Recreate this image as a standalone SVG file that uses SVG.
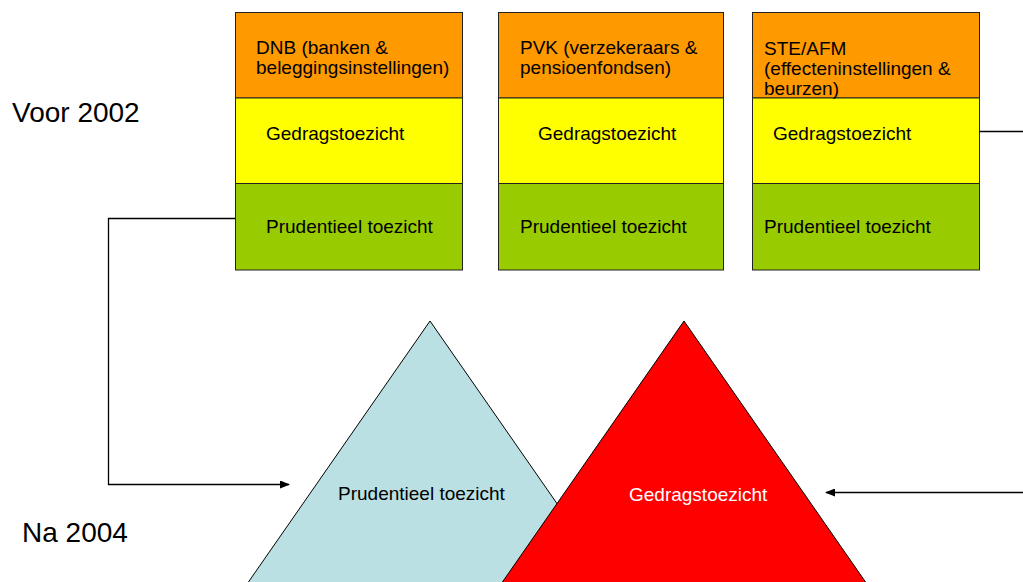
<svg xmlns="http://www.w3.org/2000/svg" width="1023" height="582" viewBox="0 0 1023 582">
  <defs>
    <style>
      text { font-family: "Liberation Sans", Arial, sans-serif; fill: #000; }
      .t { font-size: 19px; }
      .big { font-size: 28px; }
      .box { stroke: #222; stroke-width: 1; }
      .org { fill: #FF9900; }
      .yel { fill: #FFFF00; }
      .grn { fill: #99CC00; }
      .conn { fill: none; stroke: #000; stroke-width: 1.3; }
      .tri { stroke: #000; stroke-width: 1; }
    </style>
    <marker id="arr" markerWidth="10" markerHeight="8" refX="9" refY="4" orient="auto" markerUnits="userSpaceOnUse">
      <path d="M0,0 L10,4 L0,8 Z" fill="#000"/>
    </marker>
  </defs>
  <rect width="1023" height="582" fill="#fff"/>

  <g id="label-voor">
    <text class="big" x="12" y="122">Voor 2002</text>
  </g>
  <g id="label-na">
    <text class="big" x="22" y="542">Na 2004</text>
  </g>

  <g id="node-dnb">
    <rect class="box org" x="235.5" y="12.5" width="227" height="85.5"/>
    <rect class="box yel" x="235.5" y="98" width="227" height="85.5"/>
    <rect class="box grn" x="235.5" y="183.5" width="227" height="86.5"/>
    <text class="t" x="256" y="54">DNB (banken &amp;</text>
    <text class="t" x="256" y="74">beleggingsinstellingen)</text>
    <text class="t" x="266" y="140">Gedragstoezicht</text>
    <text class="t" x="266" y="233">Prudentieel toezicht</text>
  </g>

  <g id="node-pvk">
    <rect class="box org" x="498.5" y="12.5" width="225" height="85.5"/>
    <rect class="box yel" x="498.5" y="98" width="225" height="85.5"/>
    <rect class="box grn" x="498.5" y="183.5" width="225" height="86.5"/>
    <text class="t" x="520" y="54">PVK (verzekeraars &amp;</text>
    <text class="t" x="520" y="74">pensioenfondsen)</text>
    <text class="t" x="538" y="140">Gedragstoezicht</text>
    <text class="t" x="520" y="233">Prudentieel toezicht</text>
  </g>

  <g id="node-ste">
    <rect class="box org" x="752.5" y="12.5" width="227" height="85.5"/>
    <rect class="box yel" x="752.5" y="98" width="227" height="85.5"/>
    <rect class="box grn" x="752.5" y="183.5" width="227" height="86.5"/>
    <text class="t" x="764" y="55">STE/AFM</text>
    <text class="t" x="764" y="75">(effecteninstellingen &amp;</text>
    <text class="t" x="764" y="95">beurzen)</text>
    <text class="t" x="773" y="140">Gedragstoezicht</text>
    <text class="t" x="764" y="233">Prudentieel toezicht</text>
  </g>

  <g id="node-prudentieel">
    <polygon class="tri" points="430,321 222,620 638,620" fill="#BAE0E3"/>
    <text class="t" x="338" y="500">Prudentieel toezicht</text>
  </g>

  <g id="node-gedrag">
    <polygon class="tri" points="684,321 476,620 892,620" fill="#FF0000"/>
    <text class="t" x="629" y="501" style="fill:#fff">Gedragstoezicht</text>
  </g>

  <g id="connectors">
    <polyline class="conn" points="235,218.5 108.5,218.5 108.5,484.5 289,484.5" marker-end="url(#arr)"/>
    <polyline class="conn" points="979.5,131.5 1023,131.5"/>
    <polyline class="conn" points="1023,492.5 826,492.5" marker-end="url(#arr)"/>
  </g>
</svg>
